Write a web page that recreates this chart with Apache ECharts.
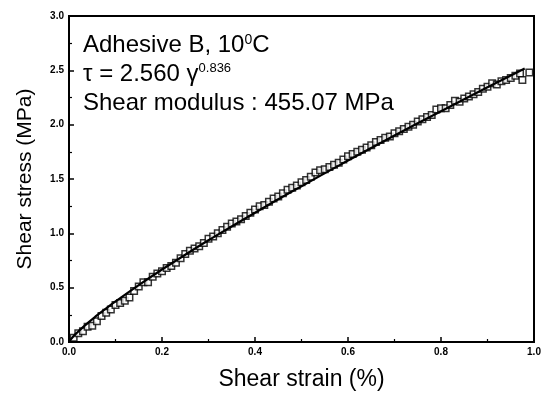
<!DOCTYPE html>
<html>
<head>
<meta charset="utf-8">
<script src="https://cdn.jsdelivr.net/npm/echarts@6/dist/echarts.min.js"></script>
<style>html,body{margin:0;padding:0;background:#fff}#c{width:553px;height:396px}</style>
</head>
<body>
<div id="c"></div>
<script>
// Measured data (open squares)
const strain = [0.01,0.02,0.03,0.04,0.05,0.06,0.07,0.08,0.09,0.10,
  0.11,0.12,0.13,0.14,0.15,0.16,0.17,0.18,0.19,0.20,
  0.21,0.22,0.23,0.24,0.25,0.26,0.27,0.28,0.29,0.30,
  0.31,0.32,0.33,0.34,0.35,0.36,0.37,0.38,0.39,0.40,
  0.41,0.42,0.43,0.44,0.45,0.46,0.47,0.48,0.49,0.50,
  0.51,0.52,0.53,0.54,0.55,0.56,0.57,0.58,0.59,0.60,
  0.61,0.62,0.63,0.64,0.65,0.66,0.67,0.68,0.69,0.70,
  0.71,0.72,0.73,0.74,0.75,0.76,0.77,0.78,0.79,0.80,
  0.81,0.82,0.83,0.84,0.85,0.86,0.87,0.88,0.89,0.90,
  0.91,0.92,0.93,0.94,0.95,0.96,0.97,0.975,0.99];
const stress = [0.04,0.08,0.10,0.14,0.15,0.19,0.24,0.27,0.30,0.34,
  0.36,0.38,0.41,0.47,0.51,0.55,0.55,0.60,0.63,0.65,
  0.68,0.70,0.73,0.77,0.81,0.84,0.86,0.88,0.91,0.95,
  0.97,1.00,1.03,1.06,1.09,1.11,1.13,1.16,1.19,1.22,
  1.25,1.26,1.29,1.32,1.34,1.37,1.40,1.42,1.44,1.47,
  1.49,1.52,1.56,1.58,1.59,1.61,1.63,1.65,1.68,1.71,
  1.73,1.75,1.77,1.79,1.81,1.84,1.86,1.88,1.89,1.92,
  1.94,1.96,1.98,2.00,2.03,2.05,2.07,2.09,2.14,2.15,
  2.15,2.18,2.22,2.21,2.24,2.26,2.28,2.30,2.33,2.35,
  2.38,2.37,2.40,2.41,2.43,2.45,2.47,2.41,2.48];
// Fitted curve
const fitStrain = [0,0.01,0.02,0.04,0.06,0.08,0.10,0.15,0.20,0.25,0.30,0.40,0.50,0.60,0.70,0.80,0.90,0.98];
const fitStress = [0,0.055,0.097,0.174,0.244,0.310,0.373,0.524,0.667,0.803,0.936,1.190,1.434,1.670,1.900,2.124,2.344,2.517];
const xTicks = ['0.0','0.2','0.4','0.6','0.8','1.0'];
const yTicks = ['0.0','0.5','1.0','1.5','2.0','2.5','3.0'];

const chart = echarts.init(document.getElementById('c'), null, {renderer:'canvas'});
const font = 'Arial, "Liberation Sans", sans-serif';
const axisCommon = {
  axisLine:{show:true,lineStyle:{color:'#000',width:2}},
  axisTick:{show:true,inside:true,length:5,lineStyle:{color:'#000',width:1.5}},
  minorTick:{show:true,splitNumber:2,length:3,lineStyle:{color:'#000',width:1.2}},
  splitLine:{show:false},
  nameTextStyle:{fontFamily:font,color:'#000'}
};
chart.setOption({
  animation:false,
  backgroundColor:'#fff',
  grid:{left:69,right:19,top:16,bottom:44,show:true,borderColor:'#000',borderWidth:2,backgroundColor:'transparent'},
  xAxis:Object.assign({}, axisCommon, {
    type:'value',min:0,max:1,interval:0.2,
    name:'Shear strain (%)',nameLocation:'middle',nameGap:26,
    nameTextStyle:{fontFamily:font,color:'#000',fontSize:23},
    axisLabel:{color:'#000',fontSize:10,fontWeight:'bold',fontFamily:font,margin:5,
      formatter:(v)=>xTicks[Math.round(v/0.2)]}
  }),
  yAxis:Object.assign({}, axisCommon, {
    type:'value',min:0,max:3,interval:0.5,
    name:'Shear stress (MPa)',nameLocation:'middle',nameGap:33,
    nameTextStyle:{fontFamily:font,color:'#000',fontSize:21},
    axisLabel:{color:'#000',fontSize:10,fontWeight:'bold',fontFamily:font,margin:5,
      formatter:(v)=>yTicks[Math.round(v/0.5)]}
  }),
  series:[
    {type:'scatter',data:strain.map((x,i)=>[x,stress[i]]),symbol:'rect',symbolSize:6.5,
     itemStyle:{color:'#fff',borderColor:'#000',borderWidth:1.5},z:2},
    {type:'line',data:fitStrain.map((x,i)=>[x,fitStress[i]]),smooth:true,showSymbol:false,
     lineStyle:{color:'#000',width:2.2},z:3}
  ],
  graphic:[
    {type:'text',left:83,top:33,z:10,style:{text:'Adhesive B, 10{sup|0}C',fontFamily:font,fontSize:24,fill:'#000',
      rich:{sup:{fontSize:14,fontFamily:font,verticalAlign:'top',lineHeight:24}}}},
    {type:'text',left:83,top:62,z:10,style:{text:'τ = 2.560 γ{sup|0.836}',fontFamily:font,fontSize:24,fill:'#000',
      rich:{sup:{fontSize:13,fontFamily:font,verticalAlign:'top',lineHeight:24}}}},
    {type:'text',left:83,top:91,z:10,style:{text:'Shear modulus : 455.07 MPa',fontFamily:font,fontSize:24,fill:'#000'}}
  ]
});
</script>
</body>
</html>
